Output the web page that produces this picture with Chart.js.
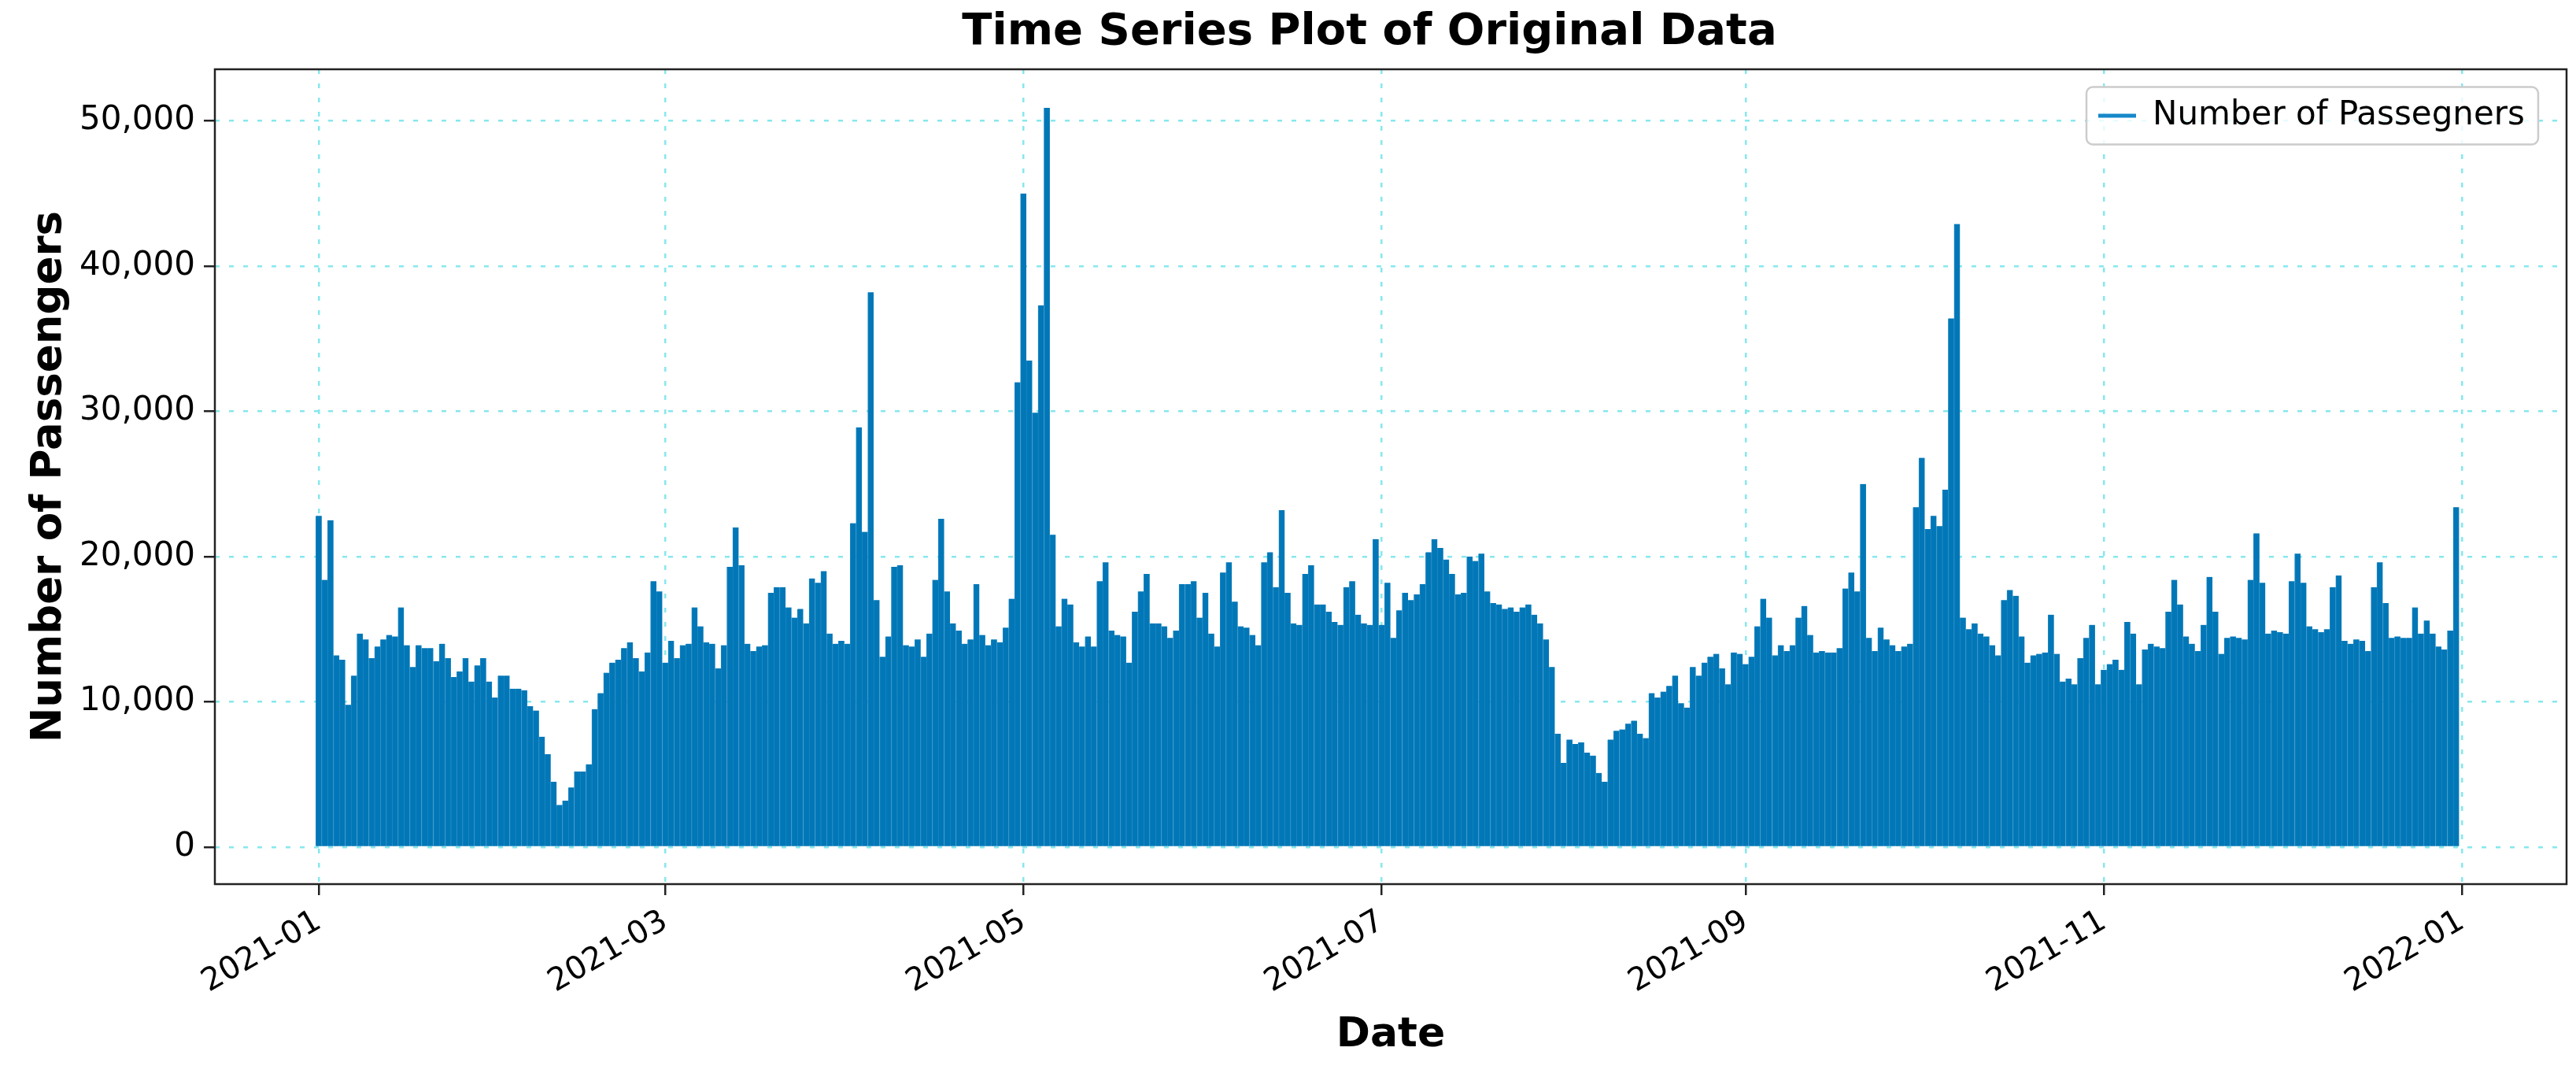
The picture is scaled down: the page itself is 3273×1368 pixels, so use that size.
<!DOCTYPE html>
<html>
<head>
<meta charset="utf-8">
<title>Time Series Plot of Original Data</title>
<script src="https://cdn.jsdelivr.net/npm/chart.js@4.4.1/dist/chart.umd.min.js"></script>
<style>
  html, body { margin: 0; padding: 0; background: #fff; }
  canvas { display: block; }
</style>
</head>
<body>
<canvas id="chart" width="3273" height="1368"></canvas>
<script>
// daily peak passenger counts (one array per month)
const jan = [22800, 18400, 22500, 13200, 12900, 9800, 11800, 14700, 14300, 13000, 13800, 14300, 14600, 14500, 16500, 13900,
             12400, 13900, 13700, 13700, 12800, 14000, 13000, 11700, 12100, 13000, 11400, 12500, 13000, 11400, 10300];
const feb = [11800, 11800, 10900, 10900, 10800, 9700, 9400, 7600, 6400, 4500, 2900, 3200, 4100, 5200, 5200, 5700,
             9500, 10600, 12000, 12700, 12900, 13700, 14100, 13000, 12100, 13400, 18300, 17600];
const mar = [12700, 14200, 13000, 13900, 14000, 16500, 15200, 14100, 14000, 12300, 13900, 19300, 22000, 19400, 14000, 13500,
             13800, 13900, 17500, 17900, 17900, 16500, 15800, 16400, 15400, 18500, 18200, 19000, 14700, 14000, 14200];
const apr = [14000, 22300, 28900, 21700, 38200, 17000, 13100, 14500, 19300, 19400, 13900, 13800, 14300, 13100, 14700,
             18400, 22600, 17600, 15400, 14900, 14000, 14300, 18100, 14600, 13900, 14300, 14100, 15100, 17100, 32000];
const may = [45000, 33500, 29900, 37300, 50900, 21500, 15200, 17100, 16700, 14100, 13800, 14500, 13800, 18300, 19600, 14900,
             14600, 14500, 12700, 16200, 17600, 18800, 15400, 15400, 15200, 14400, 14900, 18100, 18100, 18300, 15800];
const jun = [17500, 14700, 13800, 18900, 19600, 16900, 15200, 15100, 14600, 13900, 19600, 20300, 17900, 23200, 17500,
             15400, 15300, 18800, 19400, 16700, 16700, 16200, 15500, 15300, 17900, 18300, 16000, 15400, 15300, 21200];
const jul = [15300, 18200, 14400, 16300, 17500, 17000, 17400, 18100, 20300, 21200, 20600, 19800, 18800, 17400, 17500, 20000,
             19700, 20200, 17600, 16800, 16700, 16400, 16500, 16200, 16500, 16700, 16000, 15400, 14300, 12400, 7800];
const aug = [5800, 7400, 7100, 7200, 6500, 6300, 5100, 4500, 7400, 8000, 8100, 8500, 8700, 7800, 7500, 10600,
             10300, 10700, 11100, 11800, 9900, 9600, 12400, 11800, 12700, 13100, 13300, 12300, 11200, 13400, 13300];
const sep = [12600, 13100, 15200, 17100, 15800, 13200, 13900, 13500, 13900, 15800, 16600, 14600, 13400, 13500, 13400,
             13400, 13700, 17800, 18900, 17600, 25000, 14400, 13500, 15100, 14300, 13900, 13500, 13800, 14000, 23400];
const oct = [26800, 21900, 22800, 22100, 24600, 36400, 42900, 15800, 15000, 15400, 14700, 14500, 13900, 13200, 17000, 17700,
             17300, 14500, 12700, 13200, 13300, 13400, 16000, 13300, 11400, 11600, 11200, 13000, 14400, 15300, 11200];
const nov = [12200, 12600, 12900, 12200, 15500, 14700, 11200, 13600, 14000, 13800, 13700, 16200, 18400, 16700, 14500,
             14000, 13500, 15300, 18600, 16200, 13300, 14400, 14500, 14400, 14300, 18400, 21600, 18200, 14700, 14900];
const dec = [14800, 14700, 18300, 20200, 18200, 15200, 15000, 14800, 15000, 17900, 18700, 14200, 14000, 14300, 14200, 13500,
             17900, 19600, 16800, 14400, 14500, 14400, 14400, 16500, 14700, 15600, 14700, 13800, 13600, 14900, 23400];

const seriesLabel = 'Number of Passegners';
const xTickLabels = ['2021-01', '2021-03', '2021-05', '2021-07', '2021-09', '2021-11', '2022-01'];
const yTickValues = [0, 10000, 20000, 30000, 40000, 50000];

// days counted from 2021-01-01
const dayOf = s => (Date.UTC(+s.slice(0, 4), +s.slice(5, 7) - 1, 1) - Date.UTC(2021, 0, 1)) / 864e5;

const dailyPeaks = [jan, feb, mar, apr, may, jun, jul, aug, sep, oct, nov, dec].flat();
const points = dailyPeaks.map((v, i) => ({ x: i, y: v }));

const fillBlue = '#0177b7';
const stripeBlue = '#1c87c3';
const lineBlue = '#1688ca';
const gridCyan = '#86e8ee';

Chart.defaults.font.family = "'DejaVu Sans', sans-serif";
Chart.defaults.color = '#000';

// matplotlib-like legend box: moved into the top right corner of the plot, with a rounded frame
const legendInside = {
  id: 'legendInside',
  afterLayout(chart) {
    const lg = chart.legend;
    const ca = chart.chartArea;
    lg.left = ca.right - 605;
    lg.right = lg.left + lg.width;
    lg.top = ca.top + 28;
    lg.bottom = lg.top + lg.height;
    if (!lg._framed) {
      const baseDraw = lg.draw.bind(lg);
      lg.draw = function (area) {
        const ctx = chart.ctx;
        const x0 = lg.left + 10 - 15;
        ctx.save();
        ctx.font = "42px 'DejaVu Sans'";
        const textEnd = lg.left + 10 + 48 + 21 + ctx.measureText(seriesLabel).width;
        const cy = lg.top + 10 + 21;
        ctx.beginPath();
        ctx.roundRect(x0, cy - 36.5, textEnd + 17 - x0, 73, 8);
        ctx.fillStyle = 'rgba(255,255,255,0.8)';
        ctx.fill();
        ctx.lineWidth = 2.5;
        ctx.strokeStyle = '#cccccc';
        ctx.stroke();
        ctx.restore();
        baseDraw(area);
      };
      lg._framed = true;
    }
    // title sits a little left of the axes centre in the original
    const tb = chart.titleBlock;
    tb.left -= 27;
    tb.right -= 27;
  }
};

// black frame on all four sides of the axes
const axesFrame = {
  id: 'axesFrame',
  afterDraw(chart) {
    const { ctx, chartArea: a } = chart;
    ctx.save();
    ctx.lineWidth = 2.5;
    ctx.strokeStyle = '#222';
    ctx.strokeRect(a.left, a.top, a.right - a.left, a.bottom - a.top);
    ctx.restore();
  }
};

const ctx = document.getElementById('chart').getContext('2d');
new Chart(ctx, {
  type: 'bar',
  data: {
    datasets: [{
      label: seriesLabel,
      data: points,
      backgroundColor: fillBlue,
      borderColor: stripeBlue,
      borderWidth: { left: 1, right: 0, top: 0, bottom: 0 },
      borderSkipped: false,
      barPercentage: 1,
      categoryPercentage: 1
    }]
  },
  options: {
    responsive: false,
    animation: false,
    devicePixelRatio: 1,
    events: [],
    layout: { padding: { left: 0, right: 12, top: 0, bottom: 0 } },
    plugins: {
      title: {
        display: true,
        text: 'Time Series Plot of Original Data',
        fullSize: false,
        color: '#000',
        font: { size: 56, weight: 'bold' },
        padding: { top: 8, bottom: 12.8 }
      },
      legend: {
        position: 'chartArea',
        align: 'start',
        labels: {
          usePointStyle: true,
          pointStyleWidth: 48,
          textAlign: 'left',
          color: '#000',
          font: { size: 42 },
          generateLabels: () => [{
            text: seriesLabel,
            strokeStyle: lineBlue,
            fillStyle: lineBlue,
            lineWidth: 5,
            pointStyle: 'line',
            hidden: false,
            datasetIndex: 0
          }]
        }
      },
      tooltip: { enabled: false }
    },
    scales: {
      x: {
        type: 'linear',
        min: -17.7,
        max: 382.8,
        offset: false,
        afterBuildTicks: scale => { scale.ticks = xTickLabels.map(s => ({ value: dayOf(s) })); },
        afterFit: scale => { scale.height = 245; },
        ticks: {
          autoSkip: false,
          minRotation: 30,
          maxRotation: 30,
          padding: 10,
          color: '#000',
          font: { size: 40 },
          callback: (v, i) => xTickLabels[i]
        },
        grid: {
          offset: false,
          color: gridCyan,
          lineWidth: 2.5,
          z: -1,
          tickLength: 14,
          tickWidth: 2.5,
          tickColor: '#222',
          tickBorderDash: []
        },
        border: { display: false, dash: [6, 12] },
        title: {
          display: true,
          text: 'Date',
          color: '#000',
          font: { size: 52, weight: 'bold' },
          padding: { top: 0, bottom: 21.8 }
        }
      },
      y: {
        min: -2550,
        max: 53550,
        afterBuildTicks: scale => { scale.ticks = yTickValues.map(v => ({ value: v })); },
        afterFit: scale => { scale.width = 273; },
        ticks: {
          padding: 11,
          color: '#000',
          font: { size: 42 },
          callback: v => v.toLocaleString('en-US')
        },
        grid: {
          color: gridCyan,
          lineWidth: 2.5,
          z: -1,
          tickLength: 14,
          tickWidth: 2.5,
          tickColor: '#222',
          tickBorderDash: []
        },
        border: { display: false, dash: [6, 12] },
        title: {
          display: true,
          text: 'Number of Passengers',
          color: '#000',
          font: { size: 53, weight: 'bold' },
          padding: { top: 31.2, bottom: 0 }
        }
      }
    }
  },
  plugins: [legendInside, axesFrame]
});
</script>
</body>
</html>
